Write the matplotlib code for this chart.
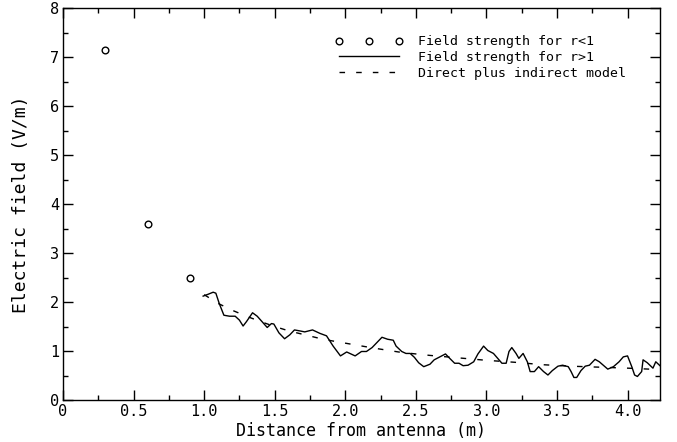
import matplotlib
matplotlib.use("Agg")
import matplotlib.pyplot as plt
from matplotlib.ticker import MultipleLocator

plt.rcParams['font.family'] = ['DejaVu Sans Mono', 'DejaVu Sans']

# Near-field samples (r < 1)
near_x = [0.3, 0.6, 0.9]
near_y = [7.15, 3.60, 2.48]

# Measured field strength (r > 1)
meas_x = [0.993, 1.03, 1.064, 1.083, 1.107, 1.14, 1.18, 1.22, 1.25, 1.276, 1.30, 1.343,
          1.376, 1.41, 1.447, 1.477, 1.494, 1.53, 1.57, 1.607, 1.64, 1.678, 1.713, 1.768,
          1.82, 1.867, 1.914, 1.966, 2.01, 2.04, 2.07, 2.115, 2.15, 2.19, 2.23, 2.26,
          2.30, 2.34, 2.36, 2.40, 2.43, 2.46, 2.49, 2.52, 2.556, 2.60, 2.63, 2.67,
          2.71, 2.74, 2.775, 2.806, 2.835, 2.87, 2.91, 2.94, 2.98, 3.01, 3.05, 3.08,
          3.11, 3.14, 3.16, 3.18, 3.21, 3.23, 3.26, 3.29, 3.31, 3.34, 3.37, 3.405,
          3.436, 3.467, 3.507, 3.54, 3.58, 3.60, 3.62, 3.64, 3.67, 3.70, 3.73, 3.77,
          3.80, 3.84, 3.86, 3.90, 3.94, 3.97, 4.00, 4.03, 4.05, 4.07, 4.10, 4.11,
          4.14, 4.18, 4.20, 4.23]
meas_y = [2.12, 2.16, 2.20, 2.18, 1.97, 1.73, 1.71, 1.71, 1.63, 1.51, 1.60, 1.78,
          1.71, 1.60, 1.48, 1.56, 1.55, 1.37, 1.25, 1.33, 1.43, 1.41, 1.39, 1.43,
          1.36, 1.31, 1.10, 0.90, 0.98, 0.94, 0.90, 0.99, 0.99, 1.07, 1.19, 1.28,
          1.24, 1.22, 1.10, 0.99, 0.95, 0.95, 0.87, 0.76, 0.68, 0.73, 0.82, 0.88,
          0.94, 0.85, 0.75, 0.75, 0.70, 0.71, 0.78, 0.94, 1.10, 1.01, 0.95, 0.85,
          0.75, 0.75, 0.99, 1.07, 0.95, 0.85, 0.95, 0.78, 0.58, 0.58, 0.68, 0.58,
          0.51, 0.60, 0.69, 0.71, 0.68, 0.58, 0.46, 0.46, 0.60, 0.69, 0.71, 0.83,
          0.78, 0.68, 0.63, 0.68, 0.78, 0.88, 0.90, 0.68, 0.51, 0.48, 0.58, 0.82,
          0.76, 0.65, 0.78, 0.70]

# Direct plus indirect model
model_x = [1.0, 1.1, 1.2, 1.3, 1.4, 1.5, 1.6, 1.7, 1.8, 1.9, 2.0, 2.2, 2.4, 2.6,
           2.8, 3.0, 3.2, 3.4, 3.6, 3.8, 4.0, 4.23]
model_y = [2.15, 1.97, 1.83, 1.71, 1.60, 1.50, 1.41, 1.34, 1.27, 1.21, 1.16, 1.06,
           0.97, 0.91, 0.86, 0.81, 0.77, 0.72, 0.69, 0.67, 0.65, 0.62]

labels = ['Field strength for r<1', 'Field strength for r>1', 'Direct plus indirect model']

fig = plt.figure(figsize=(6.77, 4.42), dpi=100)
ax = fig.add_axes([63/677, 1 - 400/442, (660 - 63)/677, (400 - 8)/442])

ax.plot(near_x, near_y, linestyle='none', marker='o', markersize=4.8,
        markerfacecolor='none', markeredgecolor='black', markeredgewidth=1.0,
        label=labels[0])
ax.plot(meas_x, meas_y, color='black', linewidth=1.0, label=labels[1])
ax.plot(model_x, model_y, color='black', linewidth=1.0, linestyle=(0, (4, 8)),
        label=labels[2])

ax.set_xlim(0, 4.23)
ax.set_ylim(0, 8)
ax.xaxis.set_minor_locator(MultipleLocator(0.25))
ax.yaxis.set_minor_locator(MultipleLocator(0.5))
ax.set_xticks([0, 0.5, 1.0, 1.5, 2.0, 2.5, 3.0, 3.5, 4.0])
ax.set_xticklabels(['0', '0.5', '1.0', '1.5', '2.0', '2.5', '3.0', '3.5', '4.0'])
ax.set_yticks(range(0, 9))
ax.set_yticklabels([str(i) for i in range(0, 9)])

ax.tick_params(which='both', direction='in', top=True, right=True, width=1.0,
               labelsize=11, pad=3)
ax.tick_params(which='major', length=7.5)
ax.tick_params(which='minor', length=3.8)
for s in ax.spines.values():
    s.set_linewidth(1.0)

ax.set_xlabel('Distance from antenna (m)', fontsize=12, labelpad=2)
ax.set_ylabel('Electric field (V/m)', fontsize=13, labelpad=14)

leg = ax.legend(loc='upper left', bbox_to_anchor=(0.455, 0.93), frameon=False,
                numpoints=3, fontsize=9.5, handlelength=5.2, handletextpad=1.1,
                labelspacing=0.2, borderpad=0, borderaxespad=0)

fig.savefig('out.png', dpi=100)
